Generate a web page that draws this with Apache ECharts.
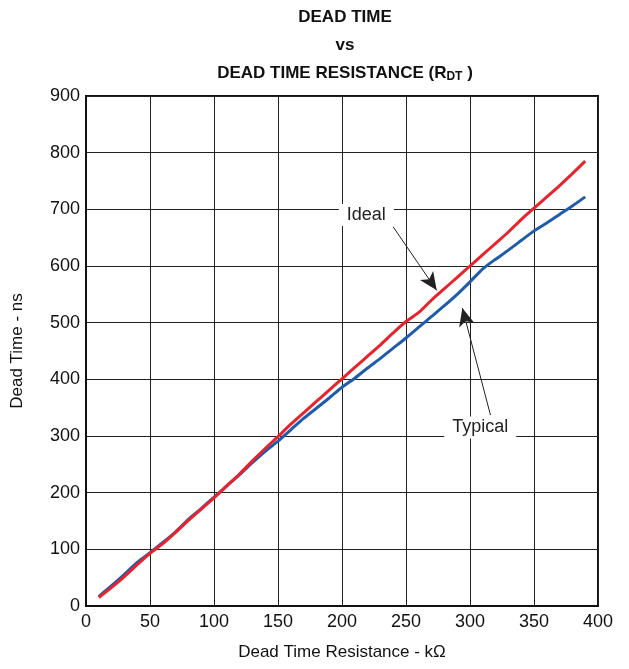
<!DOCTYPE html>
<html>
<head>
<meta charset="utf-8">
<script src="https://cdn.jsdelivr.net/npm/echarts@6/dist/echarts.min.js"></script>
<style>
  html, body { margin: 0; padding: 0; background: #fff; }
  #chart { width: 629px; height: 669px; }
</style>
</head>
<body>
<div id="chart"></div>
<script>
// data
const resistance = [10, 20, 30, 40, 50, 60, 70, 80, 90, 100, 110, 120, 130, 140, 150, 160, 170, 180, 190, 200,
  210, 220, 230, 240, 250, 260, 270, 280, 290, 300, 310, 320, 330, 340, 350, 360, 370, 380, 390]
const idealNs = [15, 33, 52, 73, 93, 110, 130, 151, 171, 191, 212, 233, 256, 278, 299, 321, 341, 361, 381, 401,
  421, 441, 461, 482, 502, 518, 540, 560, 580, 600, 620, 640, 660, 682, 702, 722, 742, 763, 785]
const typicalNs = [17, 36, 56, 77, 94, 112, 131, 153, 172, 192, 212, 232, 253, 273, 291, 311, 331, 349, 367, 386,
  402, 420, 437, 455, 473, 492, 511, 530, 550, 572, 595, 612, 628, 645, 662, 676, 691, 706, 722]
const xTicks = [0, 50, 100, 150, 200, 250, 300, 350, 400]
const yTicks = [0, 100, 200, 300, 400, 500, 600, 700, 800, 900]

const font = 'Liberation Sans, Arial, sans-serif'
const pairs = (ys) => resistance.map((x, i) => [x, ys[i]])

const chart = echarts.init(document.getElementById('chart'))
chart.setOption({
  animation: false,
  title: [
    { text: 'DEAD TIME', top: 9 },
    { text: 'vs', top: 37 },
    { text: 'DEAD TIME RESISTANCE (R{sub|DT} )', top: 63 },
  ].map((t) => ({
    ...t,
    left: 345,
    textAlign: 'center',
    padding: 0,
    textStyle: {
      fontFamily: font, fontWeight: 'bold', fontSize: 17, color: '#111',
      rich: { sub: { fontFamily: font, fontWeight: 'bold', fontSize: 12, color: '#111', verticalAlign: 'bottom', padding: [8, 0, 0, 0] } },
    },
  })),
  grid: { left: 86, right: 31, top: 96, bottom: 63, show: true, borderColor: '#111', borderWidth: 2 },
  xAxis: {
    type: 'value', min: xTicks[0], max: xTicks[xTicks.length - 1], interval: 50,
    name: 'Dead Time Resistance - k\u03A9', nameLocation: 'middle', nameGap: 38,
    nameTextStyle: { fontFamily: font, fontSize: 17, color: '#111' },
    axisLine: { lineStyle: { color: '#111', width: 2 } },
    axisTick: { show: false },
    axisLabel: { fontFamily: font, fontSize: 18, color: '#111', margin: 7 },
    splitLine: { lineStyle: { color: '#222', width: 1 } },
  },
  yAxis: {
    type: 'value', min: yTicks[0], max: yTicks[yTicks.length - 1], interval: 100,
    name: 'Dead Time - ns', nameLocation: 'middle', nameGap: 60,
    nameTextStyle: { fontFamily: font, fontSize: 17, color: '#111' },
    axisLine: { show: true, lineStyle: { color: '#111', width: 2 } },
    axisTick: { show: false },
    axisLabel: { fontFamily: font, fontSize: 18, color: '#111', margin: 6 },
    splitLine: { lineStyle: { color: '#222', width: 1 } },
  },
  series: [
    {
      name: 'Typical', type: 'line', data: pairs(typicalNs), showSymbol: false, smooth: 0.2,
      lineStyle: { color: '#1f5cab', width: 3 }, z: 3,
      markLine: {
        silent: true, symbol: ['none', 'arrow'], symbolSize: [12, 18],
        lineStyle: { color: '#222', width: 1, type: 'solid' }, label: { show: false },
        data: [[{ coord: [316, 337] }, { coord: [294, 526] }]],
      },
      markPoint: {
        silent: true, symbol: 'rect', symbolSize: 0,
        label: { show: true, formatter: 'Typical', fontFamily: font, fontSize: 18, color: '#222', backgroundColor: '#fff', padding: [2, 8] },
        data: [{ coord: [308, 315] }],
      },
    },
    {
      name: 'Ideal', type: 'line', data: pairs(idealNs), showSymbol: false, smooth: 0.2,
      lineStyle: { color: '#e8232c', width: 3 }, z: 4,
      markLine: {
        silent: true, symbol: ['none', 'arrow'], symbolSize: [12, 18],
        lineStyle: { color: '#222', width: 1, type: 'solid' }, label: { show: false },
        data: [[{ coord: [240, 669] }, { coord: [274, 557] }]],
      },
      markPoint: {
        silent: true, symbol: 'rect', symbolSize: 0,
        label: { show: true, formatter: 'Ideal', fontFamily: font, fontSize: 18, color: '#222', backgroundColor: '#fff', padding: [2, 8] },
        data: [{ coord: [219, 690] }],
      },
    },
  ],
})
</script>
</body>
</html>
